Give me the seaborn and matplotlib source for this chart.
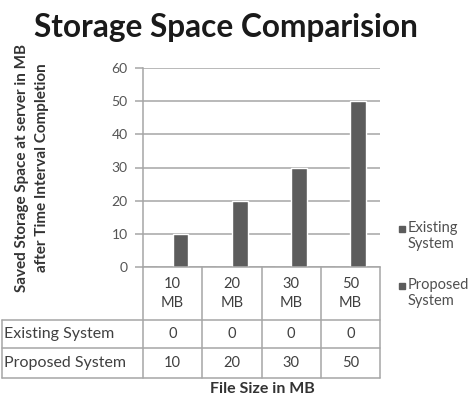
import matplotlib
matplotlib.use("Agg")
import matplotlib.pyplot as plt
import seaborn as sns
import pandas as pd
from matplotlib.patches import Rectangle
from matplotlib.lines import Line2D

# ---- data ----
categories = ["10\nMB", "20\nMB", "30\nMB", "50\nMB"]
series_names = ["Existing System", "Proposed System"]
existing_values = [0, 0, 0, 0]
proposed_values = [10, 20, 30, 50]
y_ticks = [0, 10, 20, 30, 40, 50, 60]
title = "Storage Space Comparision"
y_label = "Saved Storage Space at server in MB\nafter Time Interval Completion"
x_label = "File Size in MB"
legend_labels = ["Existing\nSystem", "Proposed\nSystem"]

df = pd.DataFrame({
    "size": categories * 2,
    "system": [series_names[0]] * 4 + [series_names[1]] * 4,
    "value": existing_values + proposed_values,
})

sns.set_theme(style="white")
plt.rcParams["font.family"] = ["Lato", "DejaVu Sans"]

W, H = 469, 398
fig = plt.figure(figsize=(W / 100, H / 100), dpi=100)
fig.patch.set_facecolor("white")

def fx(px):
    return px / W

def fy(py):
    return 1 - py / H

ax_l, ax_r, ax_t, ax_b = 143, 380, 68, 267
ax = fig.add_axes([fx(ax_l), fy(ax_b), fx(ax_r - ax_l), (ax_b - ax_t) / H])

bar_color = "#5c5c5c"
grid_color = "#a6a6a6"
text_color = "#404040"

sns.barplot(data=df, x="size", y="value", hue="system", order=categories,
            hue_order=series_names, palette=[bar_color, bar_color],
            width=0.53, gap=0, ax=ax, legend=False, saturation=1)

ax.set_ylim(0, 60)
ax.set_xlim(-0.5, len(categories) - 0.5)
ax.set_yticks(y_ticks)
ax.set_yticklabels([str(t) for t in y_ticks], fontsize=10, color="#555555")
ax.set_xticks([])
ax.set_xlabel("")
ax.set_ylabel("")
ax.yaxis.grid(True, color=grid_color, lw=1.1)
ax.set_axisbelow(True)
ax.tick_params(axis="y", length=6, width=1.1, color=grid_color, left=True, pad=5)
for s in ["top", "right"]:
    ax.spines[s].set_visible(False)
for s in ["left", "bottom"]:
    ax.spines[s].set_color(grid_color)
    ax.spines[s].set_linewidth(1.1)

# ---- data table below the axis ----
col_edges = [ax_l + i * (ax_r - ax_l) / len(categories) for i in range(len(categories) + 1)]
row_edges = [267, 320, 348, 378]
left_edge = 2

def hline(y, x0, x1):
    fig.add_artist(Line2D([fx(x0), fx(x1)], [fy(y), fy(y)], color=grid_color, lw=1.1))

def vline(x, y0, y1):
    fig.add_artist(Line2D([fx(x), fx(x)], [fy(y0), fy(y1)], color=grid_color, lw=1.1))

hline(row_edges[1], left_edge, ax_r)
hline(row_edges[2], left_edge, ax_r)
hline(row_edges[3], left_edge, ax_r)
for x in col_edges:
    vline(x, row_edges[0], row_edges[3])
vline(left_edge, row_edges[1], row_edges[3])

for i, c in enumerate(categories):
    cx = (col_edges[i] + col_edges[i + 1]) / 2
    fig.text(fx(cx), fy((row_edges[0] + row_edges[1]) / 2), c, ha="center", va="center",
             fontsize=10.5, color=text_color, linespacing=1.5)
    fig.text(fx(cx), fy((row_edges[1] + row_edges[2]) / 2), str(existing_values[i]),
             ha="center", va="center", fontsize=10.5, color=text_color)
    fig.text(fx(cx), fy((row_edges[2] + row_edges[3]) / 2), str(proposed_values[i]),
             ha="center", va="center", fontsize=10.5, color=text_color)

fig.text(fx(4), fy((row_edges[1] + row_edges[2]) / 2), series_names[0], ha="left", va="center",
         fontsize=11.5, color=text_color)
fig.text(fx(4), fy((row_edges[2] + row_edges[3]) / 2), series_names[1], ha="left", va="center",
         fontsize=11.5, color=text_color)

# ---- titles ----
fig.text(fx(226), fy(27), title, ha="center", va="center", fontsize=22.8,
         fontweight="bold", color="#1a1a1a")
fig.text(fx(32), fy(168), y_label, ha="center", va="center", rotation=90,
         fontsize=11, fontweight="bold", color="#333333", linespacing=1.5)
fig.text(fx(262), fy(389), x_label, ha="center", va="center", fontsize=11.5,
         fontweight="bold", color="#333333")

# ---- legend ----
for lbl, ytop in zip(legend_labels, [228, 285]):
    fig.add_artist(Rectangle((fx(399), fy(ytop + 4)), fx(6), 6 / H, color=bar_color,
                             transform=fig.transFigure))
    fig.text(fx(408), fy(ytop - 7), lbl, ha="left", va="top", fontsize=10.5,
             color="#505050", linespacing=1.2)

fig.savefig("out.png", dpi=100, facecolor="white")
